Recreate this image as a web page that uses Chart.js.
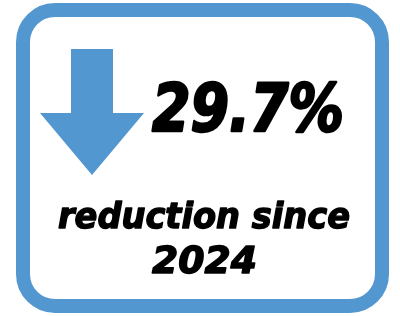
<!DOCTYPE html>
<html>
<head>
<meta charset="utf-8">
<script src="https://cdn.jsdelivr.net/npm/chart.js@4.4.1/dist/chart.umd.min.js"></script>
<style>
  html, body { margin: 0; padding: 0; background: #fff; }
  #box { width: 400px; height: 316px; }
</style>
</head>
<body>
<div id="box"><canvas id="card" width="400" height="316"></canvas></div>
<script>
// values shown on the card
const reductionPct = [29.7];
const sinceYear = ['2024'];
const captionLines = ['reduction since', sinceYear[0]];

const blue = '#5397d0';
const fontFamily = '"DejaVu Sans", sans-serif';

// writes text squeezed or stretched to a given width, a bit heavier than bold
function fitText(ctx, text, left, baseline, width, size) {
    ctx.font = 'italic bold ' + size + 'px ' + fontFamily;
    const w = ctx.measureText(text).width;
    ctx.save();
    ctx.translate(left, baseline);
    ctx.scale(width / w, 1);
    ctx.lineWidth = size * 0.04;
    ctx.lineJoin = 'round';
    ctx.strokeText(text, 0, 0);
    ctx.fillText(text, 0, 0);
    ctx.restore();
}

// draws the rounded frame, the down arrow and the texts
const cardPlugin = {
    id: 'card',
    afterDraw(chart) {
        const ctx = chart.ctx;
        ctx.save();

        // frame
        ctx.strokeStyle = blue;
        ctx.lineWidth = 14;
        ctx.beginPath();
        ctx.roundRect(23, 10, 359, 296, 32);
        ctx.stroke();

        // arrow
        ctx.fillStyle = blue;
        ctx.beginPath();
        ctx.moveTo(71, 49);
        ctx.lineTo(113, 49);
        ctx.lineTo(113, 113);
        ctx.lineTo(144, 113);
        ctx.lineTo(92, 175);
        ctx.lineTo(40, 113);
        ctx.lineTo(71, 113);
        ctx.closePath();
        ctx.fill();

        // texts
        ctx.fillStyle = '#000';
        ctx.strokeStyle = '#000';
        ctx.textBaseline = 'alphabetic';
        ctx.textAlign = 'left';
        fitText(ctx, reductionPct[0].toFixed(1) + '%', 152, 131, 192, 65);
        fitText(ctx, captionLines[0], 58, 228, 292, 35);
        fitText(ctx, captionLines[1], 152, 273, 105, 38);

        ctx.restore();
    }
};

new Chart(document.getElementById('card'), {
    type: 'bar',
    data: {
        labels: sinceYear,
        datasets: [{ label: 'reduction', data: reductionPct, backgroundColor: 'rgba(0,0,0,0)' }]
    },
    options: {
        responsive: false,
        animation: false,
        plugins: { legend: { display: false }, tooltip: { enabled: false } },
        scales: { x: { display: false }, y: { display: false, min: 0, max: 100 } }
    },
    plugins: [cardPlugin]
});
</script>
</body>
</html>
